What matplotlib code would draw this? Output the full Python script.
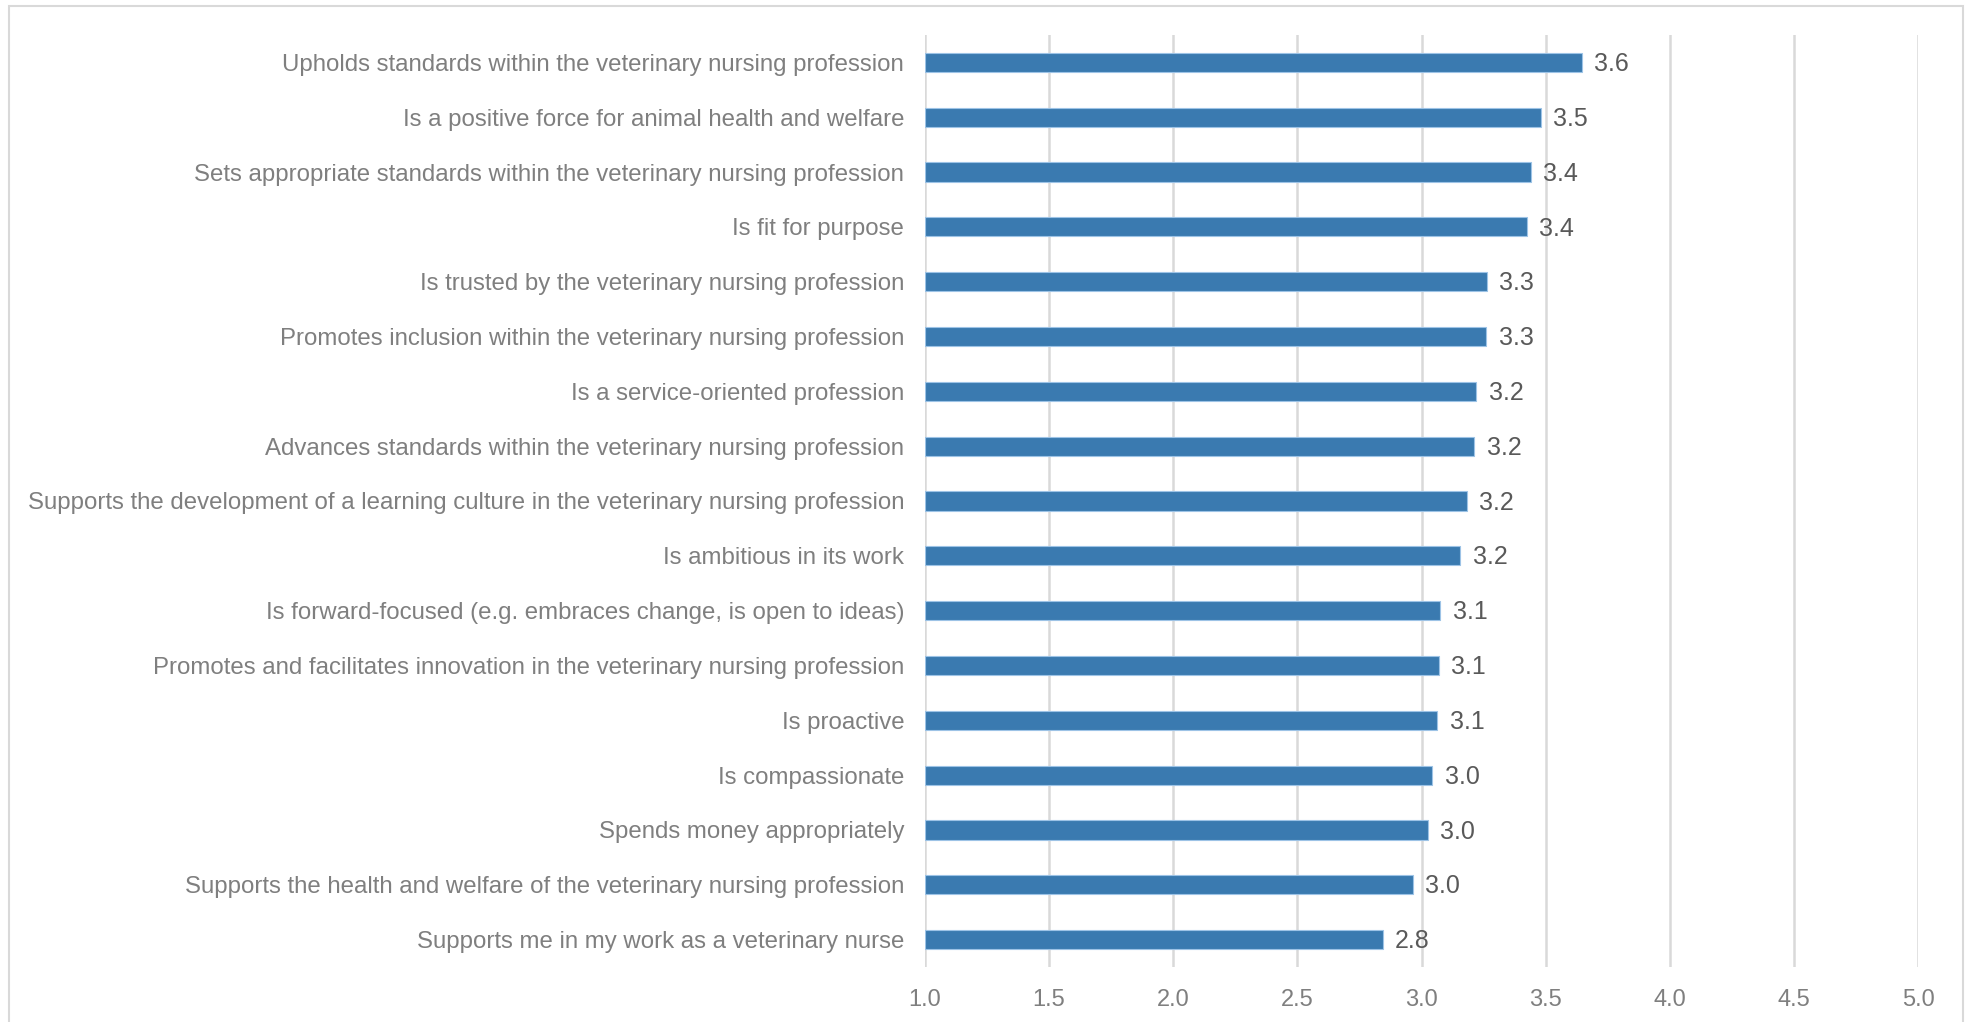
import matplotlib.pyplot as plt
from matplotlib.patches import Rectangle

# statements, top to bottom as shown
statements = [
    "Upholds standards within the veterinary nursing profession",
    "Is a positive force for animal health and welfare",
    "Sets appropriate standards within the veterinary nursing profession",
    "Is fit for purpose",
    "Is trusted by the veterinary nursing profession",
    "Promotes inclusion within the veterinary nursing profession",
    "Is a service-oriented profession",
    "Advances standards within the veterinary nursing profession",
    "Supports the development of a learning culture in the veterinary nursing profession",
    "Is ambitious in its work",
    "Is forward-focused (e.g. embraces change, is open to ideas)",
    "Promotes and facilitates innovation in the veterinary nursing profession",
    "Is proactive",
    "Is compassionate",
    "Spends money appropriately",
    "Supports the health and welfare of the veterinary nursing profession",
    "Supports me in my work as a veterinary nurse",
]
mean_scores = [
    3.645, 3.481, 3.441, 3.425, 3.264, 3.261, 3.221, 3.213, 3.182,
    3.157, 3.075, 3.070, 3.063, 3.044, 3.025, 2.964, 2.844,
]
x_ticks = [1.0, 1.5, 2.0, 2.5, 3.0, 3.5, 4.0, 4.5, 5.0]

bar_color = "#3A7AB0"
edge_color = "#9DC3E6"
label_grey = "#7F7F7F"
value_grey = "#595959"
grid_grey = "#D9D9D9"

plt.rcParams["font.family"] = ["Liberation Sans", "DejaVu Sans"]

fig = plt.figure(figsize=(19.66, 10.22), dpi=100)
ax = fig.add_axes([925 / 1966, 55 / 1022, 993 / 1966, 932 / 1022])

y = list(range(len(statements)))
left = x_ticks[0]
widths = [v - left for v in mean_scores]
ax.barh(y, widths, left=left, height=0.35, color=bar_color,
        edgecolor=edge_color, linewidth=0.8, zorder=3)

for yi, v in zip(y, mean_scores):
    ax.text(v + 0.05, yi + 0.03, f"{v:.1f}", va="center", ha="left",
            fontsize=18, color=value_grey)

ax.set_xlim(x_ticks[0], x_ticks[-1])
ax.set_ylim(len(statements) - 0.5, -0.5)
ax.set_xticks(x_ticks)
ax.set_xticklabels([f"{t:.1f}" for t in x_ticks])
ax.set_yticks(y)
ax.set_yticklabels(statements)

ax.tick_params(axis="x", length=0, pad=16, labelsize=17, labelcolor=label_grey)
ax.tick_params(axis="y", length=0, pad=15, labelsize=17.3, labelcolor=label_grey)

ax.grid(True, axis="x", color=grid_grey, linewidth=1.8, zorder=0)
ax.grid(False, axis="y")
for spine in ax.spines.values():
    spine.set_visible(False)

# light frame around the whole chart area
fig.patches.append(Rectangle((9 / 1966, -0.05), 1954 / 1966, 1.05 - 6 / 1022,
                             transform=fig.transFigure, fill=False,
                             edgecolor=grid_grey, linewidth=1.5))

fig.savefig("out.png", dpi=100)
plt.close(fig)
